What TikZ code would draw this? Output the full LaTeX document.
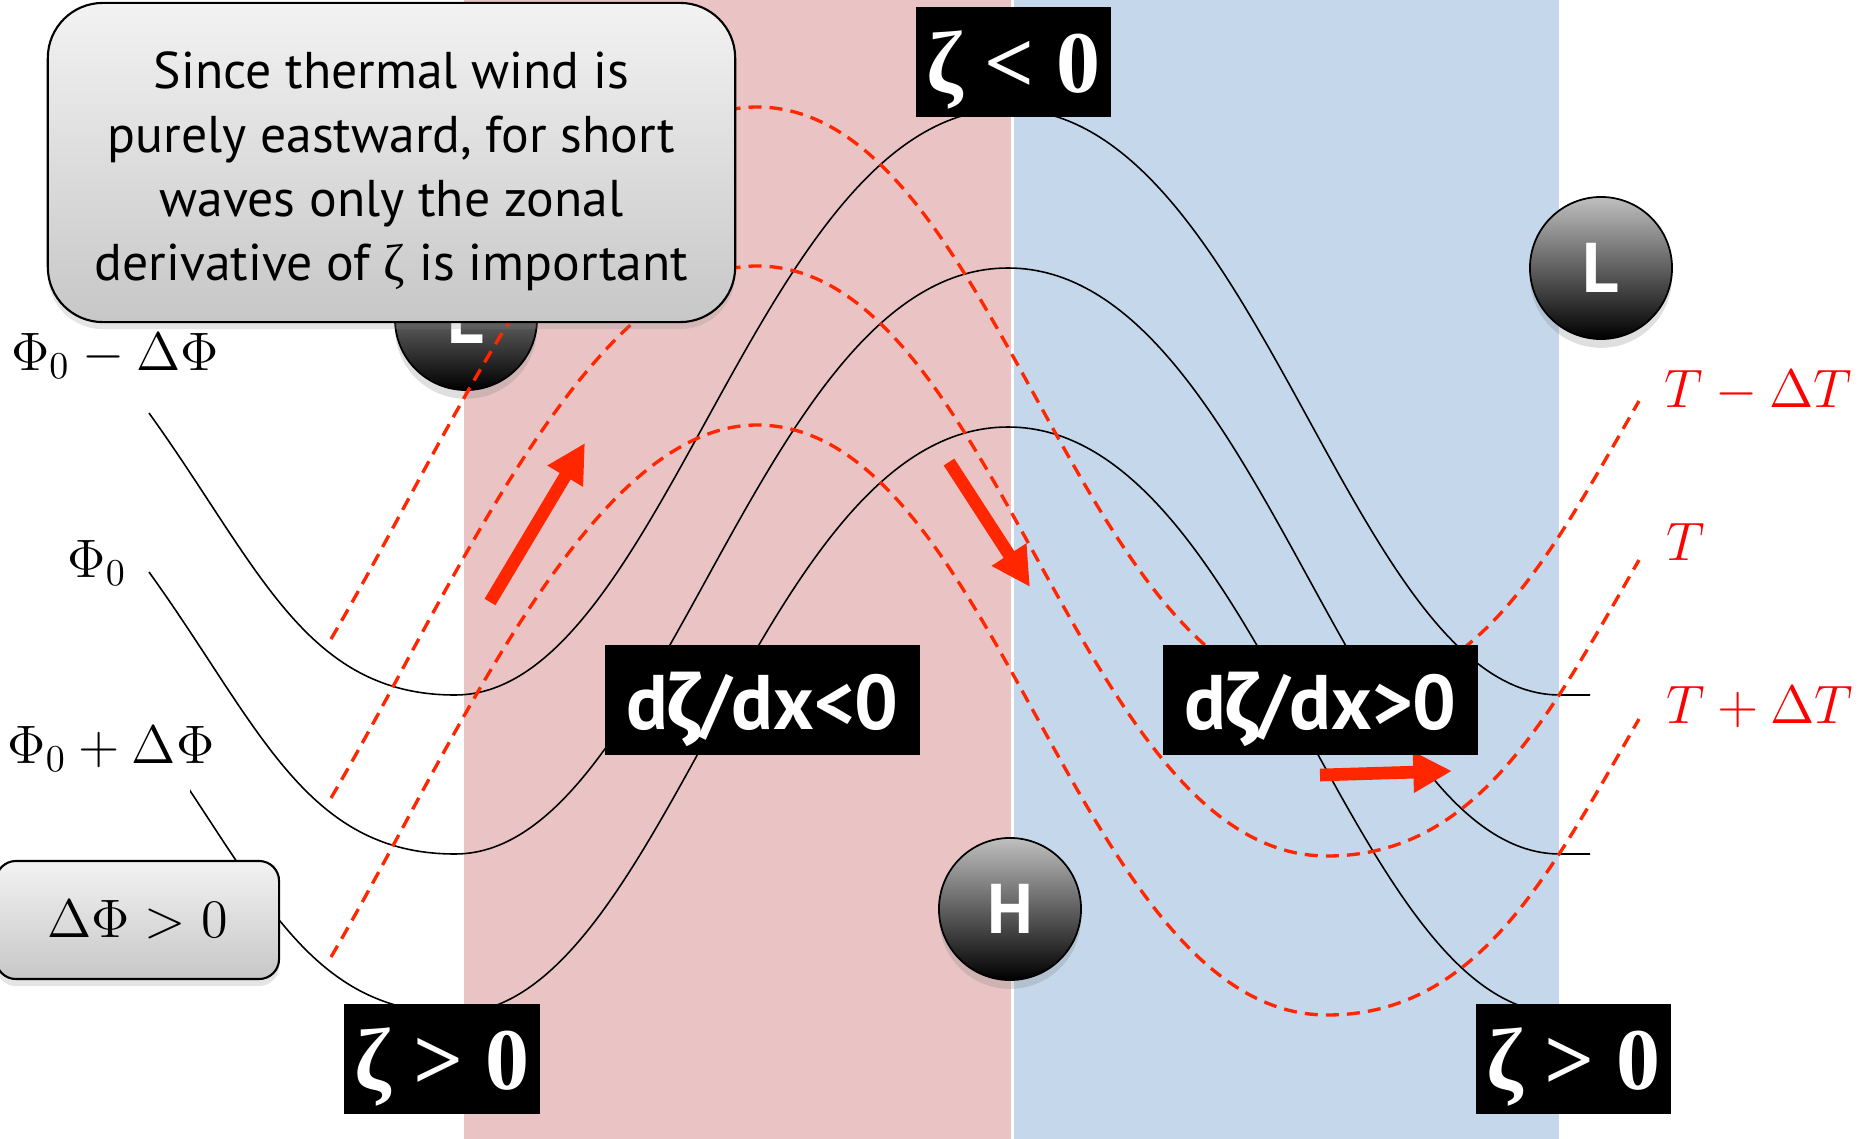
\RequirePackage{fix-cm}
\documentclass[tikz,border=0pt]{standalone}
\usepackage{fontspec}
\setsansfont{PT Sans}
\newfontfamily\zetaserif{Liberation Serif}
\newfontfamily\zetasans{Fira Sans}
\usepackage{tikz}
\usetikzlibrary{arrows.meta,shadows}
\definecolor{Pink}{HTML}{EAC4C4}
\definecolor{Sky}{HTML}{C4D7EB}
\definecolor{Flame}{HTML}{FF2600}

\begin{document}
\begin{tikzpicture}[x=0.01cm,y=-0.01cm,>=Latex,
  isobar/.style={black,line width=0.45pt},
  isotherm/.style={Flame,line width=0.95pt,dash pattern=on 3.7pt off 2.3pt},
  flow/.style={Flame,line width=3.6pt,-{Triangle[length=11pt,width=11pt]}},
  tag/.style={fill=black,text=white,inner sep=0pt,minimum height=1.09cm},
  zetatag/.style={tag,minimum width=1.95cm,text height=17.4pt,text depth=0pt,
    font=\zetaserif\bfseries\fontsize{25}{25}\selectfont},
  slopetag/.style={tag,minimum width=3.15cm,text height=17pt,text depth=0pt,
    font=\sffamily\bfseries\fontsize{22}{22}\selectfont},
  pressure/.style={circle,draw=black,line width=0.5pt,top color=black!25,bottom color=black,
    text=white,font=\sffamily\bfseries\fontsize{20}{20}\selectfont,minimum size=1.42cm,inner sep=0pt,
    drop shadow={shadow xshift=0pt,shadow yshift=-2.5pt,opacity=0.25}},
  bubble/.style={draw=black,line width=0.6pt,top color=black!5,bottom color=black!22,
    drop shadow={shadow xshift=0pt,shadow yshift=-2pt,opacity=0.2}},
  lbl/.style={inner sep=0pt,font=\fontsize{15.4}{18}\selectfont},
  ]
  \useasboundingbox (0,0) rectangle (1865,1139);
  \fill[white] (0,0) rectangle (1865,1139);
  \fill[Pink] (464,0) rectangle (1011,1139);
  \fill[Sky] (1014,0) rectangle (1559,1139);

  \node[pressure] (lowW) at (466,319) {L};
  \node[pressure] (high) at (1010,909) {H};
  \node[pressure] (lowE) at (1601,268) {L};

  % geopotential contours
  \foreach \dy/\cx in {0/0,159/0,318/190}{
    \begin{scope}
      \clip (\cx,0) rectangle (1865,1139);
      \draw[isobar,shift={(0,\dy)}] (149,413) .. controls (259,566) and (305,695) .. (455,695)
        .. controls (665,695) and (758,109) .. (1008,109)
        .. controls (1258,109) and (1350,695) .. (1560,695) -- (1590,695);
    \end{scope}
  }
  % isotherms
  \foreach \dy in {0,159,318}
    \draw[isotherm,shift={(0,\dy)}] (331,639) .. controls (451,435) and (587,107) .. (757,107)
      .. controls (997,107) and (1077,697) .. (1327,697)
      .. controls (1477,697) and (1549,558) .. (1639,401);

  \coordinate (upT) at (490,602);
  \coordinate (upH) at (585,443);
  \coordinate (dnT) at (949,462);
  \coordinate (dnH) at (1030,587);
  \coordinate (eT) at (1320,775);
  \coordinate (eH) at (1452,771);
  \draw[flow] (upT) -- (upH);
  \draw[flow] (dnT) -- (dnH);
  \draw[flow] (eT) -- (eH);

  \node[zetatag] (vortN) at (1013.5,62) {ζ < 0};
  \node[zetatag] (vortSW) at (442,1059) {ζ > 0};
  \node[zetatag] (vortSE) at (1573.5,1059) {ζ > 0};
  \node[slopetag] (slopeW) at (762.5,700) {d{\zetasans ζ}/dx<0};
  \node[slopetag] (slopeE) at (1320.5,700) {d{\zetasans ζ}/dx>0};

  \node[bubble,rounded corners=0.55cm,minimum width=6.87cm,minimum height=3.19cm] (note) at (391.5,162.5) {};
  \node[align=center,font=\sffamily\fontsize{14.7}{18.2}\selectfont] (noteText) at (391.5,171)
    {Since thermal wind is\\purely eastward, for short\\waves only the zonal\\derivative of {\zetaserif ζ} is important};
  \node[bubble,rounded corners=0.2cm,minimum width=2.83cm,minimum height=1.18cm,inner sep=0pt,
    font=\fontsize{15.4}{18}\selectfont] (dphi) at (137.5,920) {$\Delta\Phi > 0$};

  \node[lbl,anchor=base] (phiA) at (115,370) {$\Phi_0-\Delta\Phi$};
  \node[lbl,anchor=base] (phiB) at (97,577) {$\Phi_0$};
  \node[lbl,anchor=base] (phiC) at (111,763) {$\Phi_0+\Delta\Phi$};
  \node[lbl,anchor=base west,text=red] (tA) at (1664,407) {$T-\Delta T$};
  \node[lbl,anchor=base west,text=red] (tB) at (1666,560) {$T$};
  \node[lbl,anchor=base west,text=red] (tC) at (1666,723) {$T+\Delta T$};
\end{tikzpicture}
\end{document}
